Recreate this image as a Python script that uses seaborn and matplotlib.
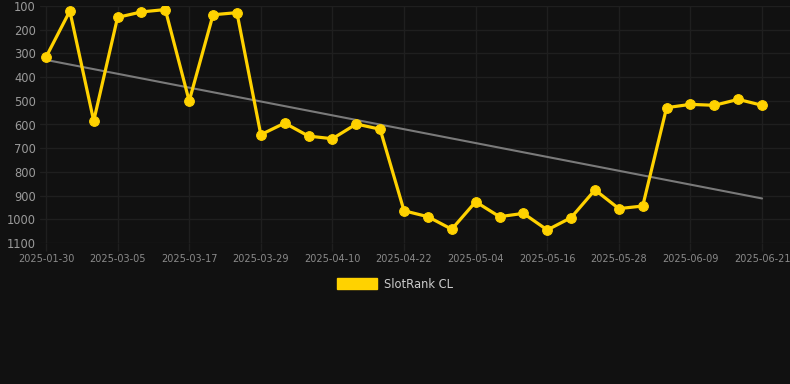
import matplotlib
matplotlib.use("Agg")
import matplotlib.pyplot as plt
from matplotlib.patches import Patch
import numpy as np
import pandas as pd
import seaborn as sns

# dates on a category axis, only every third one is labelled
dates = ["2025-01-30", "2025-02-11", "2025-02-23", "2025-03-05", "2025-03-09", "2025-03-13",
         "2025-03-17", "2025-03-21", "2025-03-25", "2025-03-29", "2025-04-02", "2025-04-06",
         "2025-04-10", "2025-04-14", "2025-04-18", "2025-04-22", "2025-04-26", "2025-04-30",
         "2025-05-04", "2025-05-08", "2025-05-12", "2025-05-16", "2025-05-20", "2025-05-24",
         "2025-05-28", "2025-06-01", "2025-06-05", "2025-06-09", "2025-06-13", "2025-06-17",
         "2025-06-21"]
rank = [316, 121, 585, 148, 125, 115, 501, 137, 128, 643, 594, 649, 660, 598, 620,
        964, 989, 1042, 926, 989, 975, 1045, 993, 876, 955, 944, 529, 515, 519, 494, 519]
series_name = "SlotRank CL"
y_ticks = [100, 200, 300, 400, 500, 600, 700, 800, 900, 1000, 1100]

bg = "#111111"
gold = "#FFD200"
grid_col = "#1f1f1f"

df = pd.DataFrame({"idx": np.arange(len(dates)), "date": dates, "rank": rank})

sns.set_theme(style="dark")
fig = plt.figure(figsize=(7.9, 3.84), dpi=100, facecolor=bg)
ax = fig.add_axes([40 / 790, 1 - 243 / 384, 750 / 790, 237 / 384])
ax.set_facecolor(bg)

# trend line (least squares)
sns.regplot(data=df, x="idx", y="rank", scatter=False, ci=None, ax=ax,
            line_kws={"color": "#7a7a7a", "linewidth": 1.5, "zorder": 2})

sns.lineplot(data=df, x="idx", y="rank", ax=ax, color=gold, linewidth=2.3,
             marker="o", markersize=7, markeredgecolor=gold, zorder=3)

ax.set_ylim(1100, 100)
ax.set_xlim(-0.25, 31.17)
ax.set_yticks(y_ticks)
ax.set_yticklabels([str(v) for v in y_ticks])
tick_idx = list(range(0, len(dates), 3))
ax.set_xticks(tick_idx)
ax.set_xticklabels([dates[i] for i in tick_idx])

ax.grid(True, color=grid_col, linewidth=1)
ax.tick_params(axis="y", colors="#9a9a9a", labelsize=8.3, length=0, pad=3)
ax.tick_params(axis="x", colors=grid_col, labelcolor="#8a8a8a", labelsize=7,
               length=6, width=1, pad=2, bottom=True)
for s in ax.spines.values():
    s.set_visible(False)
ax.set_xlabel("")
ax.set_ylabel("")

handle = Patch(facecolor=gold, edgecolor=gold)
fig.legend([handle], [series_name], loc="center", bbox_to_anchor=(0.5, 1 - 284 / 384),
           frameon=False, handlelength=3.5, handleheight=1.0, handletextpad=0.6,
           prop={"size": 8.3}, labelcolor="#cccccc")

fig.savefig("out.png", dpi=100, facecolor=bg)
